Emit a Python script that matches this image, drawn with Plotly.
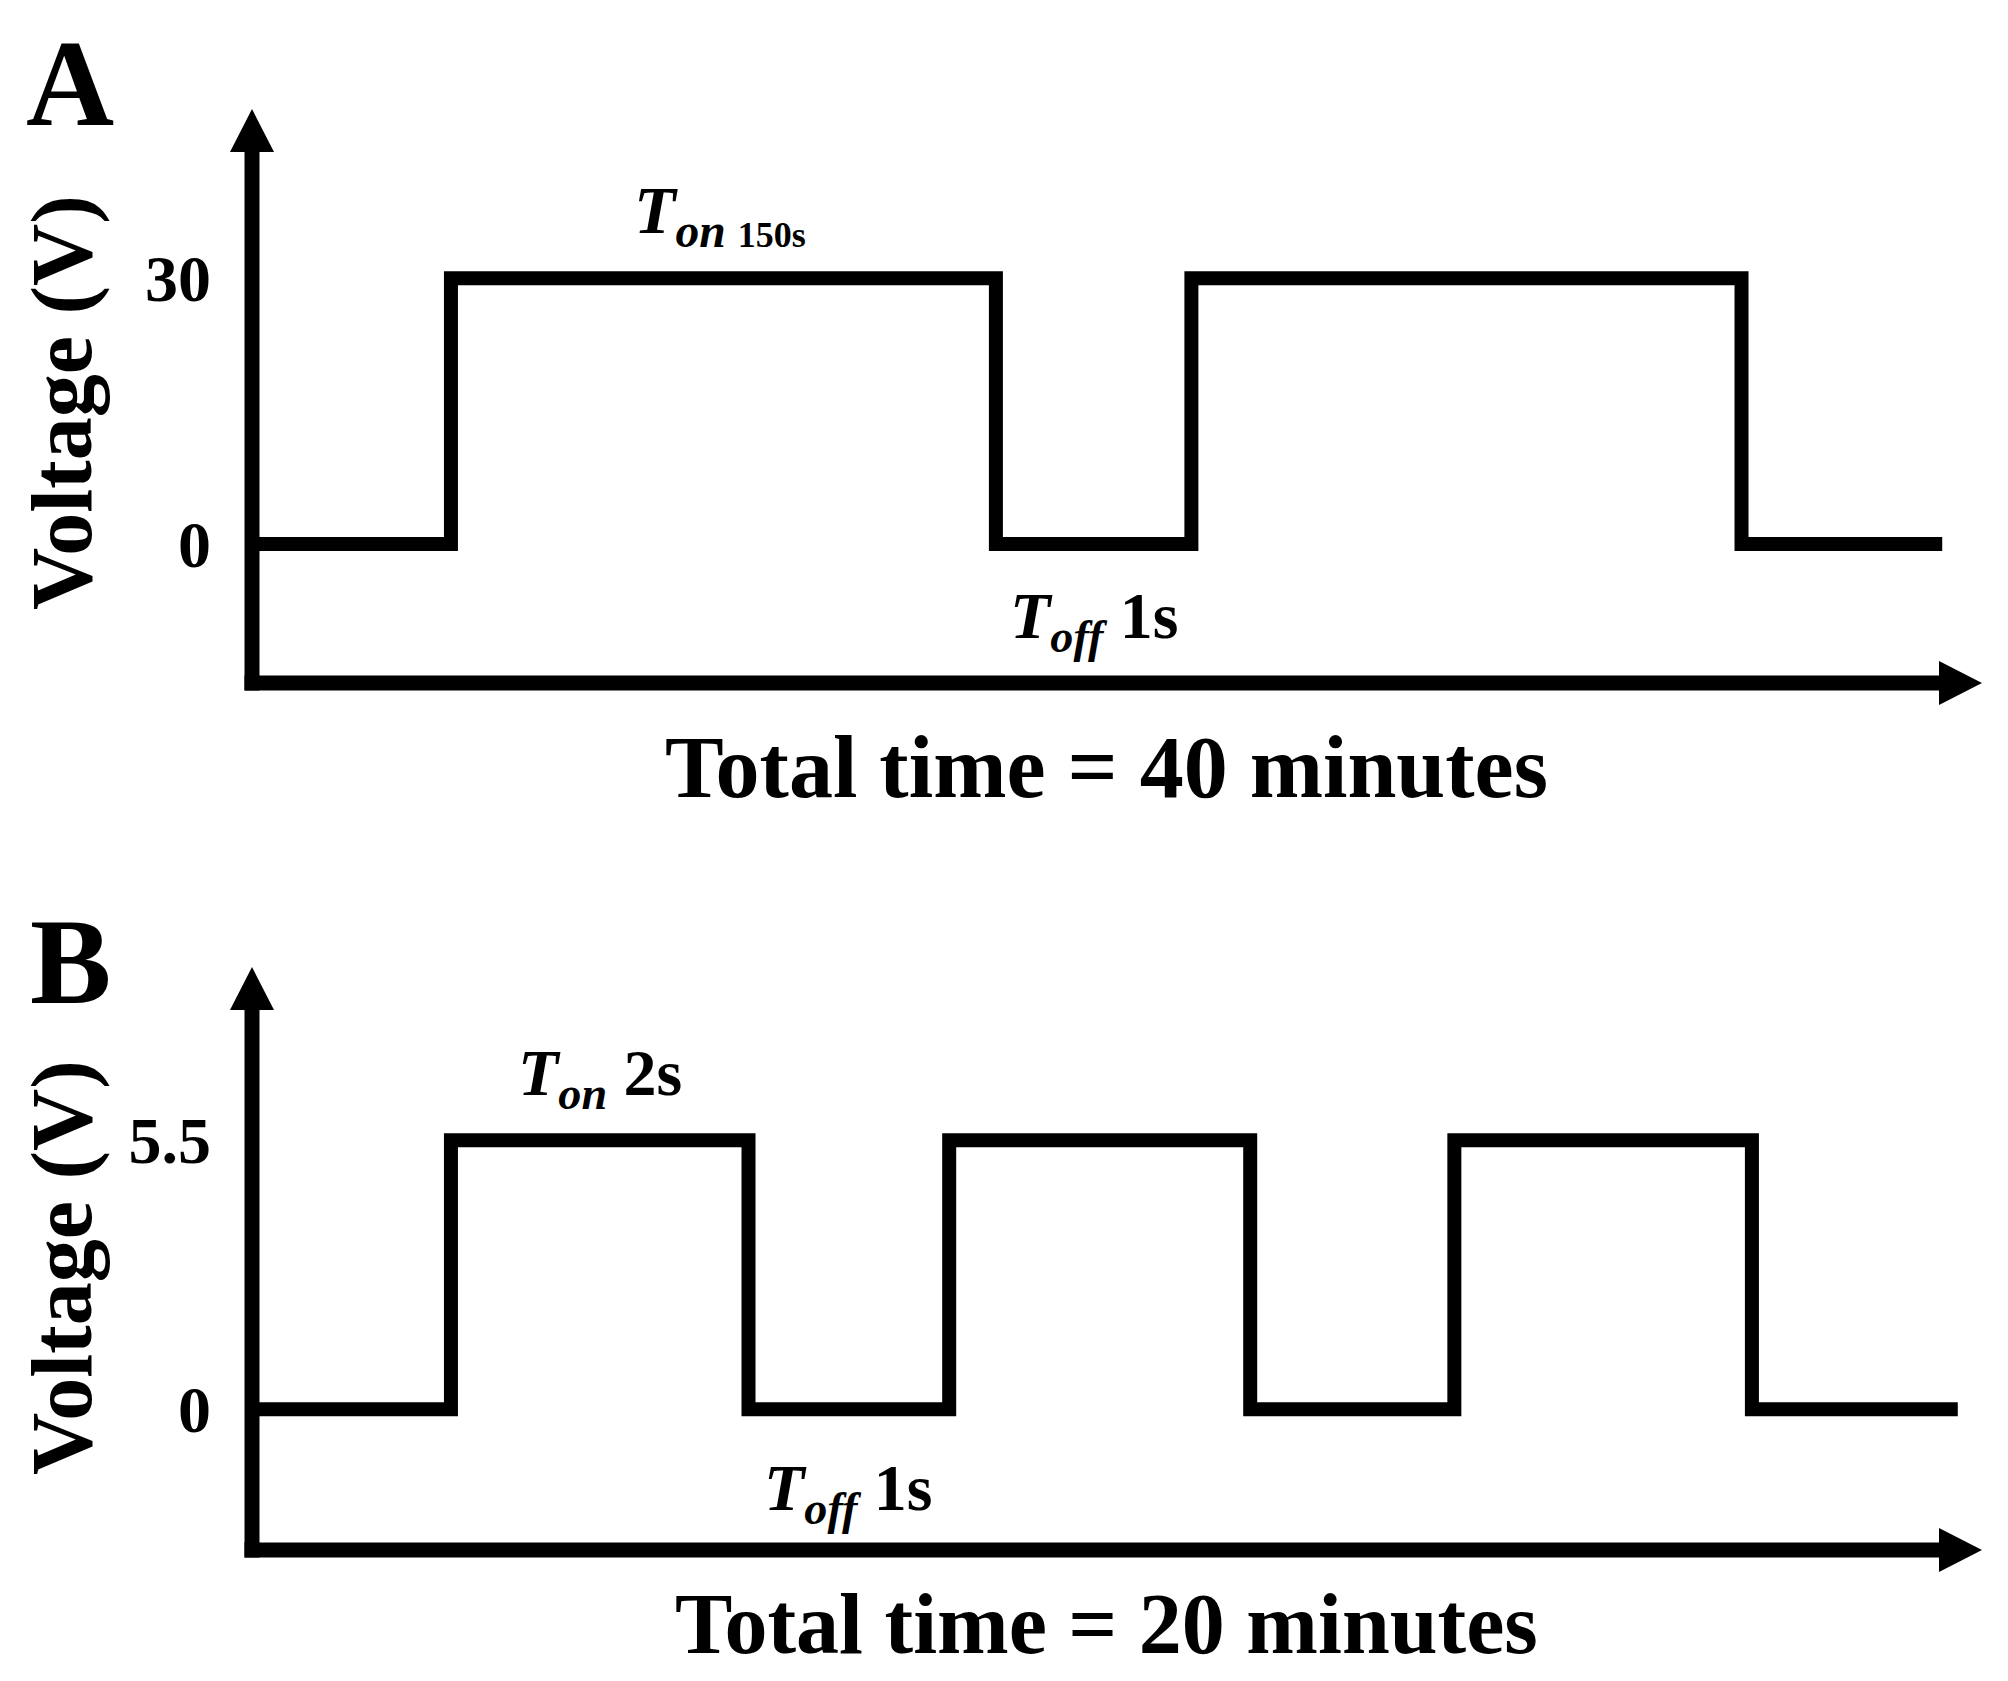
import plotly.graph_objects as go

W, H = 2008, 1681
PAD = 8  # default page margin around the plot div
FW, FH = W - 2 * PAD, H - 2 * PAD - 1
FONT = "Liberation Serif"

# schematic time axis in arbitrary units (0 = voltage axis, 100 = arrow tip)
time_a = [0, 11.5, 43.0, 54.3, 86.1, 97.7]
volt_a = [0, 30, 0, 30, 0, 0]
ticks_a = [0, 30]
labels_a = ["0", "30"]

time_b = [0, 11.5, 28.7, 40.3, 57.7, 69.5, 86.7, 98.6]
volt_b = [0, 5.5, 0, 5.5, 0, 5.5, 0, 0]
ticks_b = [0, 5.5]
labels_b = ["0", "5.5"]


def px(x):
    return (x - PAD) / FW


def py(y):
    return 1 - (y - PAD) / FH


# pixel frames of the two panels: axis corner and arrow tips
frames = {
    "a": dict(x0=252, x1=1982, ybot=683, ytop=109, yrange=[-15.7, 49.1]),
    "b": dict(x0=252, x1=1982, ybot=1550, ytop=967, yrange=[-2.88, 9.04]),
}

fig = go.Figure()
fig.add_trace(go.Scatter(x=time_a, y=volt_a, mode="lines", line_shape="hv",
                         line=dict(color="black", width=14), xaxis="x", yaxis="y"))
fig.add_trace(go.Scatter(x=time_b, y=volt_b, mode="lines", line_shape="hv",
                         line=dict(color="black", width=14), xaxis="x2", yaxis="y2"))

shapes = []
LW = 15
HEAD_L, HEAD_W = 43, 22
for f in frames.values():
    x0, x1, yb, yt = f["x0"], f["x1"], f["ybot"], f["ytop"]
    # vertical axis + arrow
    shapes.append(dict(type="line", xref="paper", yref="paper",
                       x0=px(x0), x1=px(x0), y0=py(yb + LW / 2), y1=py(yt + HEAD_L - 2),
                       line=dict(color="black", width=LW)))
    shapes.append(dict(type="path", xref="paper", yref="paper",
                       path=f"M{px(x0)},{py(yt)} L{px(x0 - HEAD_W)},{py(yt + HEAD_L)} "
                            f"L{px(x0 + HEAD_W)},{py(yt + HEAD_L)} Z",
                       fillcolor="black", line=dict(width=0)))
    # horizontal axis + arrow
    shapes.append(dict(type="line", xref="paper", yref="paper",
                       x0=px(x0 - LW / 2), x1=px(x1 - HEAD_L + 2), y0=py(yb), y1=py(yb),
                       line=dict(color="black", width=LW)))
    shapes.append(dict(type="path", xref="paper", yref="paper",
                       path=f"M{px(x1)},{py(yb)} L{px(x1 - HEAD_L)},{py(yb - HEAD_W)} "
                            f"L{px(x1 - HEAD_L)},{py(yb + HEAD_W)} Z",
                       fillcolor="black", line=dict(width=0)))

fa, fb = frames["a"], frames["b"]
yaxis_common = dict(showgrid=False, zeroline=False, showline=False, ticks="",
                    tickfont=dict(family=FONT, size=66, color="black", weight="bold"),
                    ticklabelstandoff=40, fixedrange=True)
xaxis_common = dict(visible=False, range=[0, 100], fixedrange=True)

fig.update_layout(
    width=FW, height=FH,
    margin=dict(l=0, r=0, t=0, b=0),
    paper_bgcolor="white", plot_bgcolor="white",
    showlegend=False,
    xaxis=dict(domain=[px(fa["x0"]), px(fa["x1"])], anchor="y", **xaxis_common),
    yaxis=dict(domain=[py(fa["ybot"]), py(fa["ytop"])], anchor="x", range=fa["yrange"],
               tickvals=ticks_a, ticktext=labels_a, **yaxis_common),
    xaxis2=dict(domain=[px(fb["x0"]), px(fb["x1"])], anchor="y2", **xaxis_common),
    yaxis2=dict(domain=[py(fb["ybot"]), py(fb["ytop"])], anchor="x2", range=fb["yrange"],
                tickvals=ticks_b, ticktext=labels_b, **yaxis_common),
    shapes=shapes,
)


def note(text, x, y, size, angle=0):
    fig.add_annotation(text=text, x=px(x), y=py(y), xref="paper", yref="paper",
                       xanchor="center", yanchor="middle", showarrow=False, textangle=angle,
                       font=dict(family=FONT, size=size, color="black", weight="bold"))


note("A", 70, 84, 122)
note("B", 70, 961, 122)
note("Voltage (V)", 62, 403, 86, -90)
note("Voltage (V)", 62, 1268, 86, -90)
note("Total time = 40 minutes", 1106, 768, 88)
note("Total time = 20 minutes", 1106, 1624, 86)
note("<i>T</i><sub><i>on</i> <span style='font-size:36px'>150s</span></sub>", 720, 215, 68)
note("<i>T</i><sub><i>off</i></sub> 1s", 1094, 620, 66)
note("<i>T</i><sub><i>on</i></sub> 2s", 600, 1077, 66)
note("<i>T</i><sub><i>off</i></sub> 1s", 848, 1492, 66)

fig.write_html("out.html")
